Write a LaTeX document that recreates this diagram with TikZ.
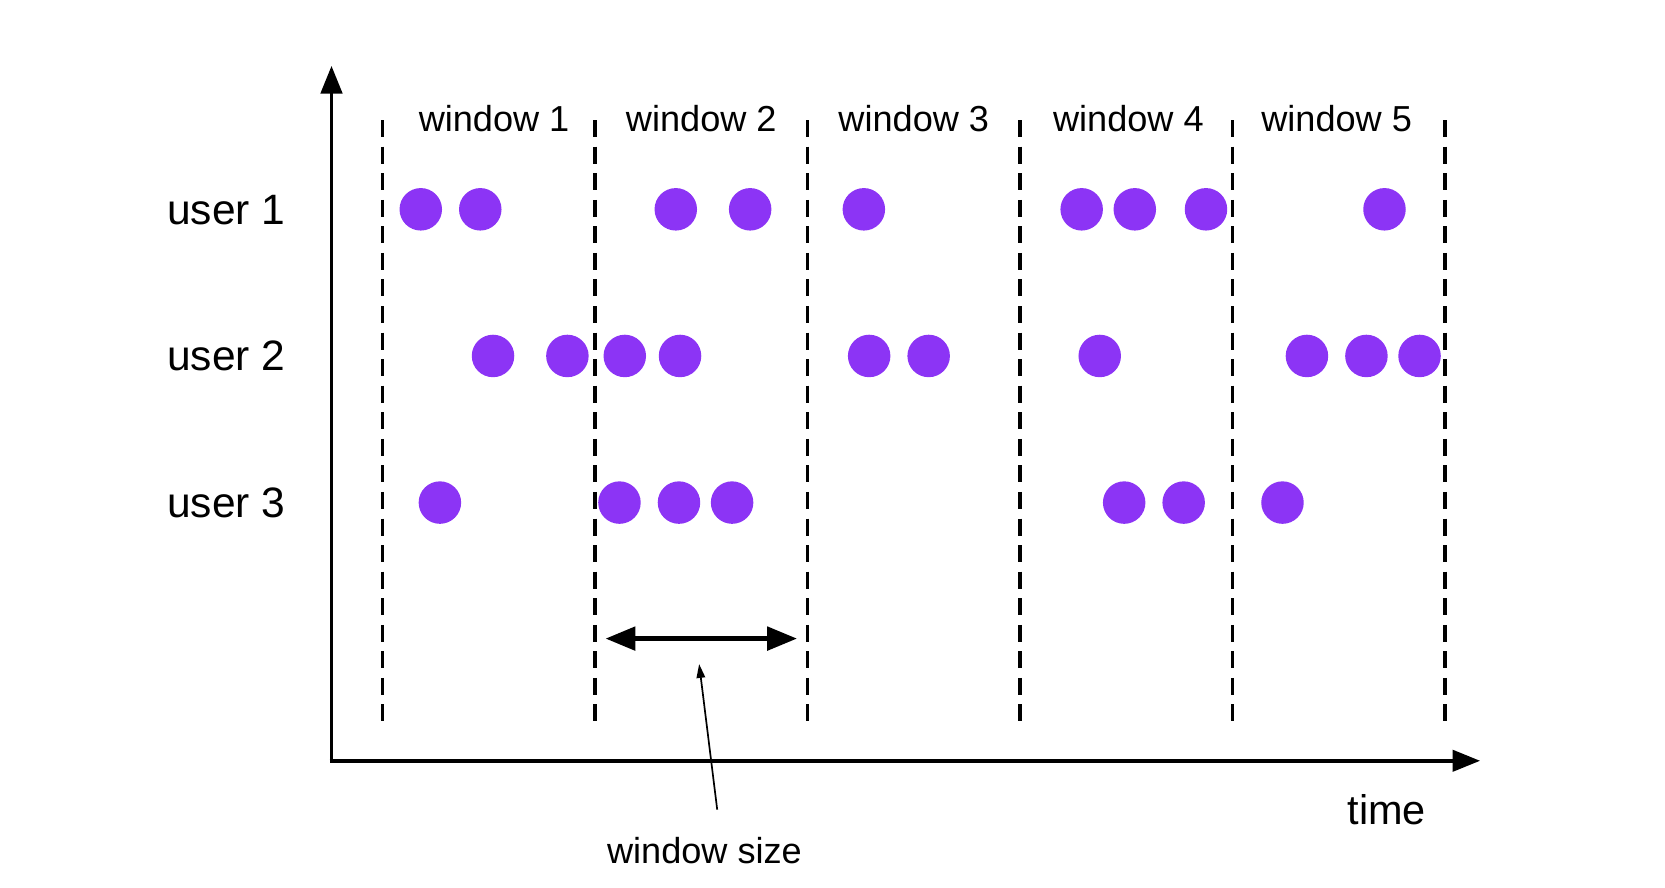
\documentclass[tikz,border=0pt]{standalone}
\usepackage{fontspec}
\setmainfont{Liberation Sans}
\usetikzlibrary{arrows.meta}
\definecolor{dotc}{RGB}{140,52,245}
\begin{document}
\begin{tikzpicture}[x=1pt,y=-1pt,
  axis/.style={line width=3.5pt,-{Triangle[length=26pt,width=20pt]}},
  winline/.style={line width=3.6pt,dash pattern=on 16pt off 9pt},
  ev/.style={circle,fill=dotc,draw=none,minimum size=40pt,inner sep=0pt},
  wlab/.style={anchor=base,font=\fontsize{34}{38}\selectfont},
  ulab/.style={anchor=base,font=\fontsize{40}{44}\selectfont},
  sizearrow/.style={line width=4pt,{Triangle[length=28pt,width=22pt]}-{Triangle[length=28pt,width=22pt]}},
  pointer/.style={line width=1.6pt,-{Triangle[length=13pt,width=8pt]}}]
\useasboundingbox (0,0) rectangle (1567,834.8);
% axes
\coordinate (O) at (312,716);
\coordinate (Ytop) at (312,62);
\coordinate (Xend) at (1393,716);
\draw[axis] (O) -- (Ytop);
\draw[axis] ([xshift=-1.75pt]O) -- (Xend);
% window boundaries
\foreach \i/\x in {0/360,1/560,2/760,3/960,4/1160,5/1360}{
  \coordinate (t\i) at (\x,113);
  \coordinate (b\i) at (\x,683);
  \draw[winline] (t\i) -- (b\i);
}
% window labels
\foreach \i/\x in {1/465,2/660,3/860,4/1062,5/1258}{
  \node[wlab] (w\i) at (\x,124) {window \i};
}
% user labels
\node[ulab] (u1) at (213,211) {user 1};
\node[ulab] (u2) at (213,349) {user 2};
\node[ulab] (u3) at (213,487) {user 3};
% events
\foreach \x [count=\k] in {396,452,636,706,813,1018,1068,1135,1303}{
  \node[ev] (a\k) at (\x,197) {};
}
\foreach \x [count=\k] in {464,534,588,640,818,874,1035,1230,1286,1336}{
  \node[ev] (b\k) at (\x,335) {};
}
\foreach \x [count=\k] in {414,583,639,689,1058,1114,1207}{
  \node[ev] (c\k) at (\x,473) {};
}
% window size arrow
\coordinate (sl) at (570,601);
\coordinate (sr) at (750,601);
\draw[sizearrow] (sl) -- (sr);
\node[wlab] (ws) at (663,813) {window size};
\coordinate (ps) at (675,762);
\coordinate (pe) at (658,625);
\draw[pointer] (ps) -- (pe);
% time
\node[ulab,font=\fontsize{39}{42}\selectfont] (time) at (1305,776) {time};
\end{tikzpicture}
\end{document}
